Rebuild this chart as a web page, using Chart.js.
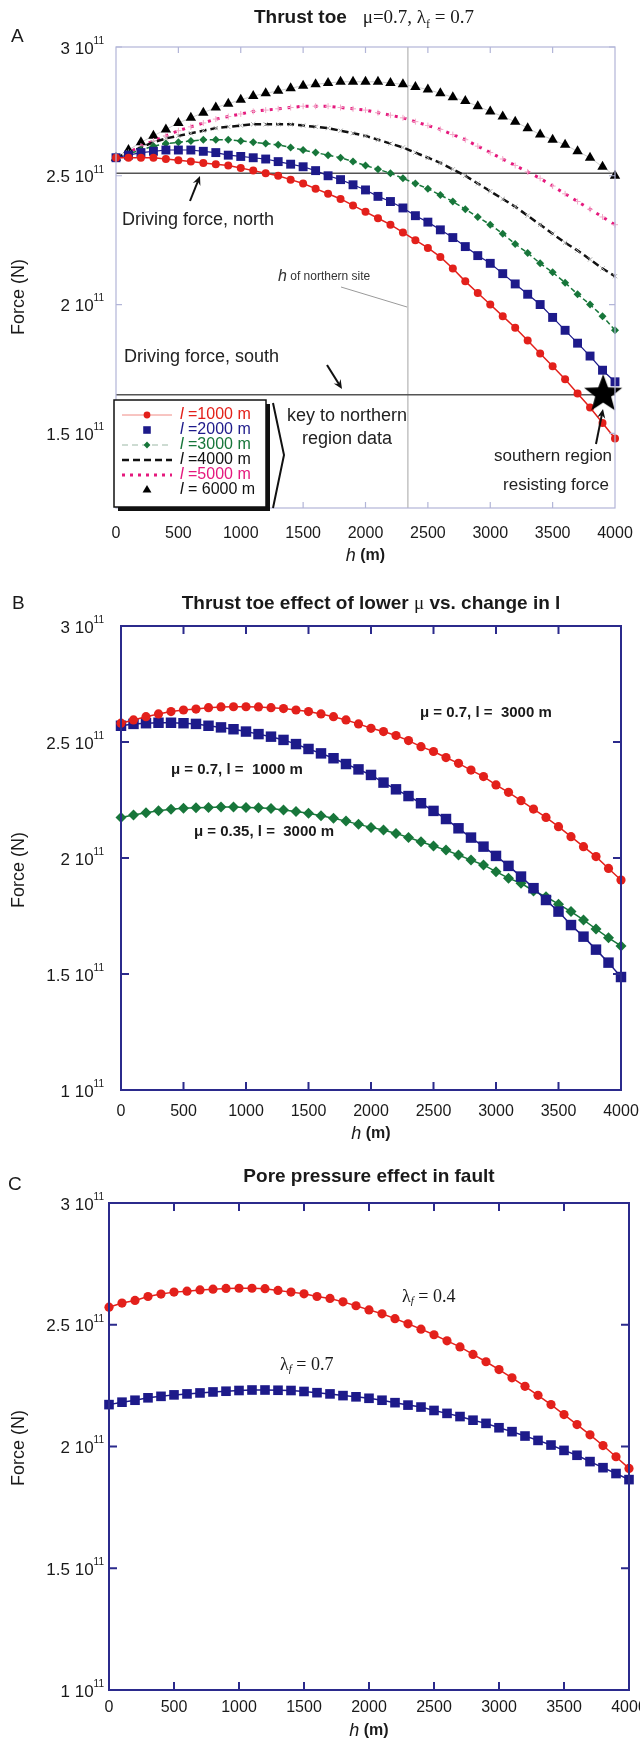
<!DOCTYPE html>
<html>
<head>
<meta charset="utf-8">
<script src="https://cdn.jsdelivr.net/npm/chart.js@4.4.0/dist/chart.umd.min.js"></script>
<style>
    html, body { margin: 0; padding: 0; background: #fff; overflow: hidden; width: 640px; height: 1739px; }
    .panel { position: absolute; left: 0; }
</style>
</head>
<body>
<div class="panel" style="top:0"><canvas id="chartA" width="660" height="565"></canvas></div>
<div class="panel" style="top:565px"><canvas id="chartB" width="660" height="580"></canvas></div>
<div class="panel" style="top:1145px"><canvas id="chartC" width="660" height="594"></canvas></div>
<script>
// forces are in units of 1e11 N, depth h in m
const depthM = [0, 100, 200, 300, 400, 500, 600, 700, 800, 900, 1000, 1100, 1200, 1300, 1400, 1500, 1600, 1700, 1800, 1900, 2000,
    2100, 2200, 2300, 2400, 2500, 2600, 2700, 2800, 2900, 3000, 3100, 3200, 3300, 3400, 3500, 3600, 3700, 3800, 3900, 4000];
const xTickValues = [0, 500, 1000, 1500, 2000, 2500, 3000, 3500, 4000];

// panel A: thrust toe, mu=0.7, lambda_f=0.7, different l
const forceL1000 = [2.57, 2.57, 2.57, 2.57, 2.565, 2.56, 2.555, 2.55, 2.545, 2.54, 2.53, 2.52, 2.51, 2.50, 2.485, 2.47, 2.45, 2.43, 2.41, 2.385,
    2.36, 2.335, 2.31, 2.28, 2.25, 2.22, 2.185, 2.14, 2.09, 2.045, 2.00, 1.955, 1.91, 1.86, 1.81, 1.76, 1.71, 1.655, 1.60, 1.54, 1.48];
const forceL2000 = [2.57, 2.58, 2.59, 2.595, 2.60, 2.60, 2.60, 2.595, 2.59, 2.58, 2.575, 2.57, 2.565, 2.555, 2.545, 2.535, 2.52, 2.50, 2.485, 2.465,
    2.445, 2.42, 2.40, 2.375, 2.345, 2.32, 2.29, 2.26, 2.225, 2.19, 2.16, 2.12, 2.08, 2.04, 2.00, 1.95, 1.90, 1.85, 1.80, 1.745, 1.70];
const forceL3000 = [2.57, 2.585, 2.60, 2.615, 2.625, 2.63, 2.635, 2.64, 2.64, 2.64, 2.635, 2.63, 2.625, 2.62, 2.61, 2.60, 2.59, 2.58, 2.57, 2.555,
    2.54, 2.525, 2.51, 2.49, 2.47, 2.45, 2.425, 2.40, 2.37, 2.34, 2.31, 2.275, 2.235, 2.20, 2.16, 2.125, 2.085, 2.04, 2.00, 1.955, 1.90];
const forceL4000 = [2.57, 2.59, 2.61, 2.63, 2.645, 2.655, 2.665, 2.675, 2.685, 2.69, 2.695, 2.70, 2.70, 2.70, 2.70, 2.695, 2.69, 2.685, 2.675, 2.665,
    2.655, 2.64, 2.625, 2.61, 2.59, 2.57, 2.55, 2.525, 2.50, 2.47, 2.44, 2.41, 2.38, 2.345, 2.31, 2.275, 2.24, 2.21, 2.175, 2.14, 2.11];
const forceL5000 = [2.57, 2.59, 2.615, 2.635, 2.655, 2.675, 2.69, 2.705, 2.72, 2.73, 2.74, 2.75, 2.755, 2.76, 2.765, 2.77, 2.77, 2.77, 2.765, 2.76,
    2.755, 2.745, 2.735, 2.725, 2.71, 2.695, 2.68, 2.66, 2.64, 2.615, 2.59, 2.565, 2.54, 2.515, 2.49, 2.46, 2.43, 2.40, 2.37, 2.34, 2.31];
const forceL6000 = [2.57, 2.60, 2.63, 2.655, 2.68, 2.705, 2.725, 2.745, 2.765, 2.78, 2.795, 2.81, 2.82, 2.83, 2.84, 2.85, 2.855, 2.86, 2.865, 2.865,
    2.865, 2.865, 2.86, 2.855, 2.845, 2.835, 2.82, 2.805, 2.79, 2.77, 2.75, 2.73, 2.71, 2.685, 2.66, 2.64, 2.62, 2.595, 2.57, 2.535, 2.50];
const drivingNorth = 2.51;
const drivingSouth = 1.65;
const northSiteH = 2340;
const southResist = { h: 3905, f: 1.66 };

// panel B: lower mu vs change in l
const forceMu07L3000 = [2.581, 2.595, 2.609, 2.621, 2.631, 2.638, 2.642, 2.648, 2.651, 2.652, 2.652, 2.651, 2.648, 2.644, 2.638, 2.631, 2.621,
    2.609, 2.595, 2.578, 2.559, 2.545, 2.528, 2.506, 2.480, 2.459, 2.433, 2.408, 2.379, 2.351, 2.315, 2.283, 2.247, 2.211, 2.175, 2.135,
    2.092, 2.049, 2.006, 1.955, 1.905];
const forceMu07L1000 = [2.570, 2.578, 2.581, 2.583, 2.583, 2.581, 2.578, 2.570, 2.563, 2.555, 2.545, 2.534, 2.523, 2.509, 2.491, 2.470, 2.451,
    2.430, 2.405, 2.382, 2.358, 2.325, 2.296, 2.267, 2.236, 2.203, 2.168, 2.128, 2.088, 2.049, 2.009, 1.966, 1.920, 1.870, 1.819, 1.769,
    1.711, 1.661, 1.605, 1.549, 1.487];
const forceMu035L3000 = [2.175, 2.185, 2.195, 2.204, 2.210, 2.214, 2.217, 2.218, 2.220, 2.220, 2.218, 2.217, 2.213, 2.207, 2.200, 2.193, 2.182,
    2.171, 2.159, 2.145, 2.132, 2.121, 2.106, 2.088, 2.070, 2.052, 2.034, 2.013, 1.991, 1.970, 1.941, 1.913, 1.891, 1.858, 1.833, 1.801,
    1.769, 1.733, 1.694, 1.656, 1.621];

// panel C: pore pressure in fault
const forceLambda04 = [2.572, 2.589, 2.600, 2.616, 2.626, 2.634, 2.638, 2.643, 2.646, 2.649, 2.650, 2.650, 2.648, 2.641, 2.634, 2.627, 2.616,
    2.608, 2.594, 2.578, 2.561, 2.545, 2.525, 2.504, 2.482, 2.459, 2.434, 2.409, 2.378, 2.348, 2.316, 2.282, 2.247, 2.210, 2.172, 2.131,
    2.090, 2.048, 2.004, 1.958, 1.910];
const forceLambda07 = [2.172, 2.182, 2.190, 2.200, 2.206, 2.212, 2.216, 2.220, 2.224, 2.227, 2.230, 2.232, 2.232, 2.231, 2.230, 2.226, 2.221,
    2.216, 2.209, 2.204, 2.198, 2.190, 2.180, 2.170, 2.162, 2.148, 2.136, 2.123, 2.108, 2.095, 2.077, 2.061, 2.043, 2.025, 2.006, 1.984,
    1.964, 1.938, 1.913, 1.889, 1.864];

const yTicksA = [1.5, 2, 2.5, 3];
const yTicksBC = [1, 1.5, 2, 2.5, 3];

const SANS = '"Liberation Sans", Arial, Helvetica, sans-serif';
const SERIF = '"Liberation Serif", "Times New Roman", serif';
const RED = '#e3201b';
const NAVY = '#1d1a8a';
const GREEN = '#17763a';
const PINK = '#e5197d';

const pts = (ys) => depthM.map((h, i) => ({ x: h, y: ys[i] }));

function drawRuns(ctx, runs, x, y, align) {
    let w = 0;
    runs.forEach(r => { ctx.font = r.font; w += ctx.measureText(r.text).width; });
    let cx = align === 'center' ? x - w / 2 : (align === 'right' ? x - w : x);
    ctx.textAlign = 'left';
    ctx.textBaseline = 'middle';
    runs.forEach(r => {
        ctx.font = r.font;
        ctx.fillStyle = r.color || '#1a1a1a';
        ctx.fillText(r.text, cx, y + (r.dy || 0));
        cx += ctx.measureText(r.text).width;
    });
}

function arrow(ctx, x1, y1, x2, y2) {
    const ang = Math.atan2(y2 - y1, x2 - x1);
    const L = 10, W = 0.42;
    ctx.save();
    ctx.strokeStyle = '#111';
    ctx.fillStyle = '#111';
    ctx.lineWidth = 2;
    ctx.beginPath();
    ctx.moveTo(x1, y1);
    ctx.lineTo(x2 - Math.cos(ang) * 5, y2 - Math.sin(ang) * 5);
    ctx.stroke();
    ctx.beginPath();
    ctx.moveTo(x2, y2);
    ctx.lineTo(x2 - L * Math.cos(ang - W), y2 - L * Math.sin(ang - W));
    ctx.lineTo(x2 - L * 0.6 * Math.cos(ang), y2 - L * 0.6 * Math.sin(ang));
    ctx.lineTo(x2 - L * Math.cos(ang + W), y2 - L * Math.sin(ang + W));
    ctx.closePath();
    ctx.fill();
    ctx.restore();
}

function marker(ctx, style, x, y, r) {
    ctx.beginPath();
    if (style === 'circle') ctx.arc(x, y, r, 0, Math.PI * 2);
    else if (style === 'rect') ctx.rect(x - r * 0.707, y - r * 0.707, r * 1.414, r * 1.414);
    else if (style === 'rectRot') { ctx.moveTo(x, y - r); ctx.lineTo(x + r, y); ctx.lineTo(x, y + r); ctx.lineTo(x - r, y); }
    else if (style === 'triangle') { ctx.moveTo(x, y - r); ctx.lineTo(x + r * 0.87, y + r * 0.5); ctx.lineTo(x - r * 0.87, y + r * 0.5); }
    ctx.closePath();
    ctx.fill();
}

function makeStar(size) {
    const c = document.createElement('canvas');
    c.width = c.height = size;
    const g = c.getContext('2d');
    const m = size / 2, R = size / 2, r = R * 0.42;
    g.beginPath();
    for (let i = 0; i < 10; i++) {
        const a = -Math.PI / 2 + i * Math.PI / 5;
        const rr = i % 2 ? r : R;
        g.lineTo(m + rr * Math.cos(a), m + 2 + rr * Math.sin(a));
    }
    g.closePath();
    g.fillStyle = '#000';
    g.fill();
    return c;
}

// frame, inner ticks, tick labels, titles
function framePlugin(cfg) {
    return {
        id: 'frame' + cfg.letter,
        afterDatasetsDraw(chart) {
            const { ctx, chartArea: a, scales: { x, y } } = chart;
            ctx.save();
            ctx.strokeStyle = cfg.color;
            ctx.lineWidth = cfg.width;
            ctx.strokeRect(a.left, a.top, a.right - a.left, a.bottom - a.top);
            ctx.beginPath();
            xTickValues.slice(1, -1).forEach(v => {
                const px = x.getPixelForValue(v);
                ctx.moveTo(px, a.bottom); ctx.lineTo(px, a.bottom - cfg.tick);
                ctx.moveTo(px, a.top); ctx.lineTo(px, a.top + cfg.tick);
            });
            cfg.yTicks.forEach(v => {
                const py = y.getPixelForValue(v);
                ctx.moveTo(a.left, py); ctx.lineTo(a.left + cfg.tick, py);
                ctx.moveTo(a.right, py); ctx.lineTo(a.right - cfg.tick, py);
            });
            ctx.stroke();
            ctx.restore();
        },
        afterDraw(chart) {
            const { ctx, chartArea: a, scales: { y } } = chart;
            ctx.save();
            cfg.yTicks.forEach(v => {
                const py = y.getPixelForValue(v);
                drawRuns(ctx, [
                    { text: v + ' 10', font: '17px ' + SANS },
                    { text: '11', font: '10px ' + SANS, dy: -8 }
                ], 104, py + 2, 'right');
            });
            drawRuns(ctx, [{ text: cfg.letter, font: '19px ' + SANS }], cfg.letterX, cfg.letterY, 'left');
            drawRuns(ctx, cfg.title, cfg.titleX, cfg.titleY, 'center');
            drawRuns(ctx, [
                { text: 'h', font: 'italic 18px ' + SANS },
                { text: ' (m)', font: 'bold 16px ' + SANS }
            ], (a.left + a.right) / 2, cfg.xTitleY, 'center');
            ctx.translate(19, cfg.yTitleY);
            ctx.rotate(-Math.PI / 2);
            drawRuns(ctx, [{ text: 'Force (N)', font: '18px ' + SANS }], 0, 0, 'center');
            ctx.restore();
            if (cfg.extra) cfg.extra(chart);
        }
    };
}

function baseOptions(layout) {
    return {
        responsive: false,
        animation: false,
        layout: { padding: { top: layout.top, right: 660 - layout.right, left: 0, bottom: 0 } },
        plugins: { legend: { display: false }, tooltip: { enabled: false } },
        elements: { line: { tension: 0 } },
        scales: {
            x: {
                type: 'linear', min: 0, max: 4000,
                grid: { display: false }, border: { display: false },
                ticks: { stepSize: 500, autoSkip: false, maxRotation: 0, padding: layout.tickPad,
                    color: '#1a1a1a', font: { family: SANS, size: 16 }, callback: v => String(v) },
                afterFit: s => { s.height = layout.xHeight; }
            },
            y: {
                min: layout.yMin, max: 3,
                grid: { display: false }, border: { display: false },
                ticks: { display: false },
                afterFit: s => { s.width = layout.left; }
            }
        }
    };
}

// ---------- Panel A ----------
const legendRowsA = [
    { ds: 1, text: '=1000 m', color: RED, line: '#f08a84', dash: [], lw: 1 },
    { ds: 2, text: '=2000 m', color: NAVY, line: null },
    { ds: 3, text: '=3000 m', color: GREEN, line: '#9bb8a5', dash: [6, 4], lw: 1 },
    { ds: 4, text: '=4000 m', color: '#111', line: '#111', dash: [7, 4], lw: 2.5, noMarker: true },
    { ds: 5, text: '=5000 m', color: PINK, line: PINK, dash: [3, 5], lw: 3, noMarker: true },
    { ds: 6, text: '= 6000 m', color: '#111', line: null }
];

function extraA(chart) {
    const ctx = chart.ctx;
    ctx.save();
    drawRuns(ctx, [{ text: 'Driving force, north', font: '18px ' + SANS, color: '#222' }], 122, 220, 'left');
    arrow(ctx, 190, 201, 200, 176);
    drawRuns(ctx, [{ text: 'Driving force, south', font: '18px ' + SANS, color: '#222' }], 124, 357, 'left');
    arrow(ctx, 327, 365, 342, 389);
    drawRuns(ctx, [
        { text: 'h', font: 'italic 16px ' + SANS, color: '#333' },
        { text: ' of northern site', font: '12px ' + SANS, color: '#333' }
    ], 278, 277, 'left');
    ctx.strokeStyle = '#9a9a9a';
    ctx.lineWidth = 1;
    ctx.beginPath(); ctx.moveTo(341, 287); ctx.lineTo(407, 307); ctx.stroke();

    // legend box with shadow
    const bx = 114, by = 400, bw = 152, bh = 107;
    ctx.fillStyle = '#111';
    ctx.fillRect(bx + 4, by + 4, bw, bh);
    ctx.fillStyle = '#fff';
    ctx.fillRect(bx, by, bw, bh);
    ctx.strokeStyle = '#111';
    ctx.lineWidth = 1.5;
    ctx.strokeRect(bx, by, bw, bh);
    legendRowsA.forEach((row, i) => {
        const ds = chart.data.datasets[row.ds];
        const ry = by + 15 + i * 15;
        if (row.line) {
            ctx.save();
            ctx.strokeStyle = row.line;
            ctx.lineWidth = row.lw;
            ctx.setLineDash(row.dash);
            ctx.beginPath(); ctx.moveTo(122, ry); ctx.lineTo(172, ry); ctx.stroke();
            ctx.restore();
        }
        if (!row.noMarker) {
            ctx.fillStyle = ds.pointBackgroundColor;
            marker(ctx, ds.pointStyle, 147, ry, ds.pointRadius * 0.85);
        }
        drawRuns(ctx, [
            { text: 'l', font: 'italic 16px ' + SANS, color: row.color },
            { text: ' ' + row.text, font: '16px ' + SANS, color: row.color }
        ], 180, ry, 'left');
    });
    // bracket
    ctx.strokeStyle = '#111';
    ctx.lineWidth = 2;
    ctx.beginPath(); ctx.moveTo(273, 403); ctx.lineTo(284, 455); ctx.lineTo(273, 508); ctx.stroke();
    drawRuns(ctx, [{ text: 'key to northern', font: '18px ' + SANS, color: '#222' }], 347, 416, 'center');
    drawRuns(ctx, [{ text: 'region data', font: '18px ' + SANS, color: '#222' }], 347, 439, 'center');
    drawRuns(ctx, [{ text: 'southern region', font: '17px ' + SANS, color: '#222' }], 553, 456, 'center');
    drawRuns(ctx, [{ text: 'resisting force', font: '17px ' + SANS, color: '#222' }], 556, 485, 'center');
    arrow(ctx, 596, 444, 603, 409);
    ctx.restore();
}

const optsA = baseOptions({ top: 47, right: 615, left: 116, xHeight: 57, tickPad: 8, yMin: 1.21 });
new Chart(document.getElementById('chartA').getContext('2d'), {
    type: 'line',
    data: {
        datasets: [
            { data: [{ x: southResist.h, y: southResist.f }], pointStyle: makeStar(40), pointRadius: 20, showLine: false, clip: false },
            { data: pts(forceL1000), borderColor: RED, borderWidth: 1.5, pointStyle: 'circle', pointRadius: 4,
                pointBackgroundColor: RED, pointBorderColor: RED, pointBorderWidth: 0, clip: false },
            { data: pts(forceL2000), borderColor: NAVY, borderWidth: 1.2, pointStyle: 'rect', pointRadius: 6.3,
                pointBackgroundColor: NAVY, pointBorderColor: NAVY, pointBorderWidth: 0, clip: false },
            { data: pts(forceL3000), borderColor: GREEN, borderWidth: 1.5, borderDash: [5, 3], pointStyle: 'rectRot', pointRadius: 4,
                pointBackgroundColor: GREEN, pointBorderColor: GREEN, pointBorderWidth: 0, clip: false },
            { data: pts(forceL4000), borderColor: '#111', borderWidth: 2.5, borderDash: [7, 4], pointStyle: 'crossRot', pointRadius: 3,
                pointBorderColor: '#aaa', pointBorderWidth: 1, clip: false },
            { data: pts(forceL5000), borderColor: PINK, borderWidth: 3, borderDash: [3, 6], pointStyle: 'cross', pointRadius: 3,
                pointBorderColor: '#f2a8c8', pointBorderWidth: 1, clip: false },
            { data: pts(forceL6000), borderColor: 'rgba(160,160,160,0.5)', borderWidth: 1, pointStyle: 'triangle', pointRadius: 6,
                pointBackgroundColor: '#000', pointBorderColor: '#000', pointBorderWidth: 0, clip: false },
            { data: [{ x: 0, y: drivingNorth }, { x: 4000, y: drivingNorth }], borderColor: '#555', borderWidth: 1.5, pointRadius: 0 },
            { data: [{ x: 0, y: drivingSouth }, { x: 4000, y: drivingSouth }], borderColor: '#555', borderWidth: 1.5, pointRadius: 0 },
            { data: [{ x: northSiteH, y: 1.21 }, { x: northSiteH, y: 3 }], borderColor: '#a5a5a5', borderWidth: 1, pointRadius: 0 }
        ]
    },
    options: optsA,
    plugins: [framePlugin({
        letter: 'A', letterX: 11, letterY: 37, color: '#b2b5d8', width: 1.2, tick: 6, yTicks: yTicksA,
        titleX: 364, titleY: 18, xTitleY: 556, yTitleY: 297, extra: extraA,
        title: [
            { text: 'Thrust toe   ', font: 'bold 19px ' + SANS },
            { text: '\u03bc=0.7, \u03bb', font: '19px ' + SERIF },
            { text: 'f', font: '12px ' + SERIF, dy: 7 },
            { text: ' = 0.7', font: '19px ' + SERIF }
        ]
    })]
});

// ---------- Panel B ----------
function extraB(chart) {
    const ctx = chart.ctx;
    drawRuns(ctx, [{ text: '\u03bc = 0.7, l =  3000 m', font: 'bold 15px ' + SANS }], 420, 148, 'left');
    drawRuns(ctx, [{ text: '\u03bc = 0.7, l =  1000 m', font: 'bold 15px ' + SANS }], 171, 205, 'left');
    drawRuns(ctx, [{ text: '\u03bc = 0.35, l =  3000 m', font: 'bold 15px ' + SANS }], 194, 267, 'left');
}

new Chart(document.getElementById('chartB').getContext('2d'), {
    type: 'line',
    data: {
        datasets: [
            { data: pts(forceMu07L3000), borderColor: RED, borderWidth: 1.5, pointStyle: 'circle', pointRadius: 4.6,
                pointBackgroundColor: RED, pointBorderWidth: 0, clip: false },
            { data: pts(forceMu07L1000), borderColor: NAVY, borderWidth: 1.5, pointStyle: 'rect', pointRadius: 7.4,
                pointBackgroundColor: NAVY, pointBorderWidth: 0, clip: false },
            { data: pts(forceMu035L3000), borderColor: GREEN, borderWidth: 1.5, pointStyle: 'rectRot', pointRadius: 5.5,
                pointBackgroundColor: GREEN, pointBorderWidth: 0, clip: false }
        ]
    },
    options: baseOptions({ top: 61, right: 621, left: 121, xHeight: 55, tickPad: 4, yMin: 1 }),
    plugins: [framePlugin({
        letter: 'B', letterX: 12, letterY: 39, color: '#2b2a8c', width: 2, tick: 8, yTicks: yTicksBC,
        titleX: 371, titleY: 39, xTitleY: 569, yTitleY: 305, extra: extraB,
        title: [
            { text: 'Thrust toe effect of lower ', font: 'bold 19px ' + SANS },
            { text: '\u03bc', font: '19px ' + SERIF },
            { text: ' vs. change in l', font: 'bold 19px ' + SANS }
        ]
    })]
});

// ---------- Panel C ----------
function extraC(chart) {
    const ctx = chart.ctx;
    drawRuns(ctx, [
        { text: '\u03bb', font: '18px ' + SERIF },
        { text: 'f', font: 'italic 11px ' + SERIF, dy: 4 },
        { text: ' = 0.4', font: '18px ' + SERIF }
    ], 402, 152, 'left');
    drawRuns(ctx, [
        { text: '\u03bb', font: '18px ' + SERIF },
        { text: 'f', font: 'italic 11px ' + SERIF, dy: 4 },
        { text: ' = 0.7', font: '18px ' + SERIF }
    ], 280, 220, 'left');
}

new Chart(document.getElementById('chartC').getContext('2d'), {
    type: 'line',
    data: {
        datasets: [
            { data: pts(forceLambda04), borderColor: RED, borderWidth: 1.5, pointStyle: 'circle', pointRadius: 4.6,
                pointBackgroundColor: RED, pointBorderWidth: 0, clip: false },
            { data: pts(forceLambda07), borderColor: NAVY, borderWidth: 1.5, pointStyle: 'rect', pointRadius: 6.8,
                pointBackgroundColor: NAVY, pointBorderWidth: 0, clip: false }
        ]
    },
    options: baseOptions({ top: 58, right: 629, left: 109, xHeight: 49, tickPad: 0, yMin: 1 }),
    plugins: [framePlugin({
        letter: 'C', letterX: 8, letterY: 40, color: '#2b2a8c', width: 2, tick: 8, yTicks: yTicksBC,
        titleX: 369, titleY: 32, xTitleY: 586, yTitleY: 303, extra: extraC,
        title: [{ text: 'Pore pressure effect in fault', font: 'bold 19px ' + SANS }]
    })]
});
</script>
</body>
</html>
